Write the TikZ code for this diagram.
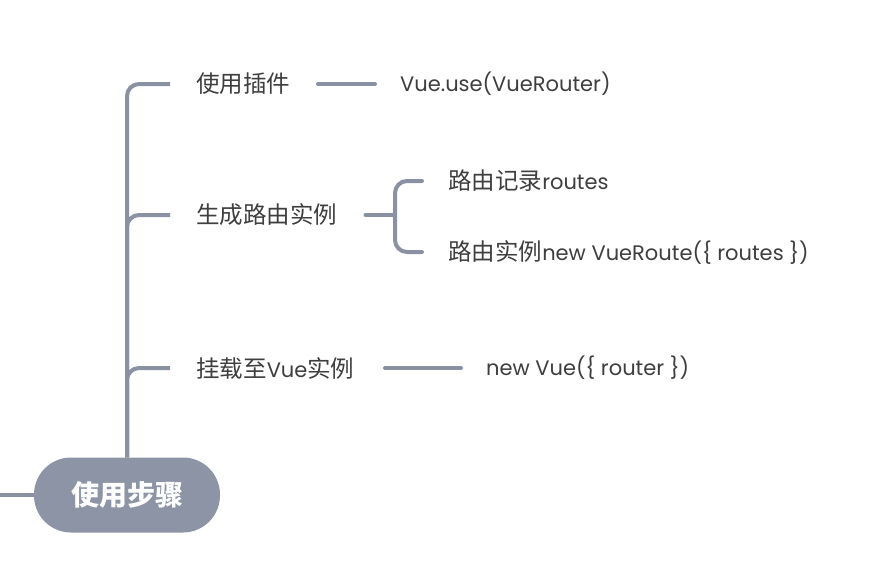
\documentclass[tikz,border=0pt]{standalone}
\usepackage{fontspec}
\setmainfont{Poppins}
\newfontfamily\cjk[Scale=1.12]{Noto Sans CJK SC}
\usetikzlibrary{positioning}
\definecolor{linegray}{HTML}{8A91A3}
\definecolor{rootgray}{HTML}{8C94A6}
\definecolor{textgray}{HTML}{3E3E3E}

\begin{document}
\begin{tikzpicture}[x=1pt, y=-1pt,
    label/.style={anchor=west, inner sep=0pt, text=textgray, font=\fontsize{21}{24}\selectfont},
    branch/.style={draw=linegray, line width=4pt, rounded corners=12pt, line cap=round}]
            \useasboundingbox (0,0) rectangle (876,574);

            % Define nodes
            \node[fill=rootgray, text=white, rounded corners=37pt, minimum width=186pt, minimum height=75pt,
                  font=\cjk\bfseries\fontsize{25}{30}\selectfont] (root) at (127,495) {使用步骤};
            \node[label] (plugin) at (196,84) {\cjk 使用插件};
            \node[label] (inst) at (196,215) {\cjk 生成路由实例};
            \node[label] (mount) at (196,368) {{\cjk 挂载至}Vue{\cjk 实例}};
            \node[label] (use) at (400,84) {Vue.use(VueRouter)};
            \node[label] (rec) at (448,181) {{\cjk 路由记录}routes};
            \node[label] (newr) at (448,252) {{\cjk 路由实例}new VueRoute(\{ routes \})};
            \node[label] (newv) at (486,368) {new Vue(\{ router \})};
            \coordinate (left) at (0,495);

            % Draw connectors
            \draw[branch, line cap=butt] (left) -- (root.west);
            \draw[branch, line cap=butt] (root.north) |- ([xshift=-26pt]plugin.west);
            \draw[branch, line cap=butt] (root.north) |- ([xshift=-26pt]inst.west);
            \draw[branch, line cap=butt] (root.north) |- ([xshift=-26pt]mount.west);
            \draw[branch] ([xshift=-82pt]use.west) -- ([xshift=-25pt]use.west);
            \draw[branch] ([xshift=-101pt]newv.west) -- ([xshift=-25pt]newv.west);
            \draw[branch] ([xshift=28pt]inst.east) -- ([xshift=55pt]inst.east);
            \draw[branch] ([xshift=-26pt]rec.west) -| ([xshift=-53pt]newr.west) -- ([xshift=-26pt]newr.west);
        \end{tikzpicture}
\end{document}
